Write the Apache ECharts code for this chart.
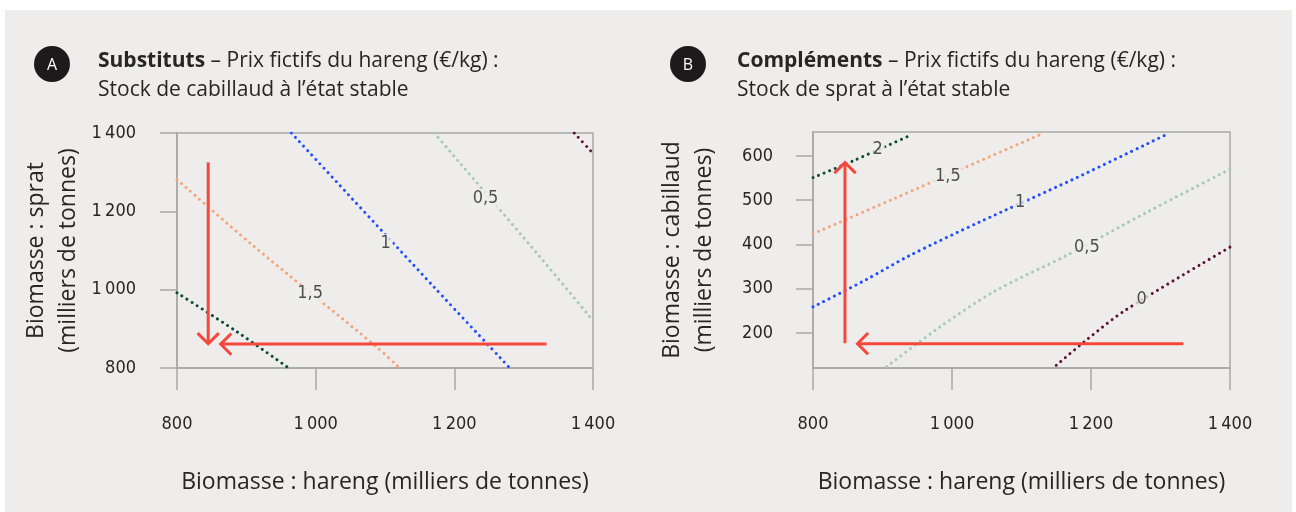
<!DOCTYPE html>
<html>
<head>
    <meta charset="UTF-8">
    <title>Prix fictifs du hareng</title>
    <script src="https://cdn.jsdelivr.net/npm/echarts@6/dist/echarts.min.js"></script>
    <style>
        html, body { margin: 0; padding: 0; background: #ffffff; }
        #chart { position: absolute; left: 5px; top: 10px; width: 1287px; height: 502px; }
    </style>
</head>
<body>
<div id="chart"></div>
<script>
    // axes
    var xTicks = [800, 1000, 1200, 1400];
    var yTicksA = [800, 1000, 1200, 1400];
    var yTicksB = [200, 300, 400, 500, 600];

    // A : substituts (hareng x, sprat y)
    var a_20 = [[800, 992], [886, 893], [961, 800]];
    var a_15 = [[800, 1281], [908, 1115], [1087, 855], [1121, 800]];
    var a_10 = [[965, 1400], [1170, 1008], [1280, 800]];
    var a_05 = [[1171, 1400], [1321, 1089], [1400, 921]];
    var a_00 = [[1373, 1400], [1400, 1348]];
    var a_labels = [[992, 990, '1,5'], [1101, 1119, '1'], [1245, 1232, '0,5']];
    var a_arrows = [[845, 1325, 845, 862], [1333, 861, 863, 861]];

    // B : compléments (hareng x, cabillaud y)
    var b_20 = [[800, 551], [858, 589], [942, 648]];
    var b_15 = [[800, 424], [913, 501], [1016, 572], [1131, 651]];
    var b_10 = [[800, 259], [877, 321], [939, 375], [1040, 451], [1174, 547], [1312, 651]];
    var b_05 = [[906, 124], [982, 213], [1061, 294], [1167, 377], [1282, 474], [1400, 570]];
    var b_00 = [[1150, 127], [1194, 185], [1249, 251], [1400, 394]];
    var b_labels = [[893, 615, '2'], [994, 555, '1,5'], [1098, 495, '1'], [1194, 394, '0,5'], [1273, 275, '0']];
    var b_arrows = [[846, 177, 846, 585], [1333, 176, 864, 176]];

    var c20 = '#0b4a33', c15 = '#f6a57b', c10 = '#1f4dff', c05 = '#a6c8bb', c00 = '#5c0f38';
    var red = '#f5473b', axisGrey = '#a8a8a8', ink = '#262626', bg = '#eeedeb';
    var tickFont = '"DejaVu Sans Condensed", "Liberation Sans Narrow", sans-serif';
    var textFont = '"Open Sans", "Noto Sans", sans-serif';

    function fmt(v) {
        var s = String(v);
        return s.length > 3 ? s.slice(0, s.length - 3) + '\u2009' + s.slice(-3) : s;
    }

    function contour(data, color, idx) {
        return {
            type: 'line', xAxisIndex: idx, yAxisIndex: idx, data: data,
            showSymbol: false, smooth: 0.3, silent: true,
            lineStyle: {color: color, width: 3, type: [0.01, 6], cap: 'round'},
            z: 2
        };
    }

    function labels(data, idx) {
        return {
            type: 'scatter', xAxisIndex: idx, yAxisIndex: idx, symbolSize: 0, silent: true,
            data: data.map(function (d) { return {value: [d[0], d[1]], name: d[2]}; }),
            label: {
                show: true, position: 'inside', formatter: '{b}',
                color: ink, fontFamily: tickFont, fontSize: 18,
                backgroundColor: bg, padding: [0, 2]
            },
            z: 3
        };
    }

    function arrowItem(params, api) {
        var p0 = api.coord([api.value(0), api.value(1)]);
        var p1 = api.coord([api.value(2), api.value(3)]);
        var ang = Math.atan2(p1[1] - p0[1], p1[0] - p0[0]);
        var L = 15, w = Math.PI / 4;
        var h1 = [p1[0] - L * Math.cos(ang - w), p1[1] - L * Math.sin(ang - w)];
        var h2 = [p1[0] - L * Math.cos(ang + w), p1[1] - L * Math.sin(ang + w)];
        return {
            type: 'group', children: [
                {type: 'line', shape: {x1: p0[0], y1: p0[1], x2: p1[0], y2: p1[1]}, style: {stroke: red, lineWidth: 3}},
                {type: 'polyline', shape: {points: [h1, p1, h2]}, style: {stroke: red, lineWidth: 3, fill: null}}
            ]
        };
    }

    function arrows(data, idx) {
        return {
            type: 'custom', xAxisIndex: idx, yAxisIndex: idx, silent: true,
            dimensions: ['x0', 'y0', 'x1', 'y1'],
            encode: {x: [0, 2], y: [1, 3]},
            data: data, renderItem: arrowItem, z: 5
        };
    }

    function xAxis(idx) {
        return {
            type: 'value', gridIndex: idx, min: 800, max: 1400, interval: 200,
            name: 'Biomasse : hareng (milliers de tonnes)', nameLocation: 'middle', nameGap: 103,
            nameTextStyle: {fontFamily: textFont, fontSize: 23, color: ink},
            axisLine: {show: true, lineStyle: {color: axisGrey, width: 1.5}},
            axisTick: {show: true, length: 22, lineStyle: {color: axisGrey, width: 1.5}},
            axisLabel: {margin: 47, fontFamily: tickFont, fontSize: 18, color: ink, formatter: fmt,
                customValues: xTicks},
            splitLine: {show: false}
        };
    }

    function yName() {
        return {fontFamily: textFont, fontSize: 23, color: ink, lineHeight: 32};
    }

    var chart = echarts.init(document.getElementById('chart'));
    chart.setOption({
        backgroundColor: bg,
        animation: false,
        grid: [
            {left: 172, top: 123, width: 416, height: 235, show: true, borderColor: axisGrey, borderWidth: 1.5, backgroundColor: 'transparent'},
            {left: 808, top: 122, width: 417, height: 236, show: true, borderColor: axisGrey, borderWidth: 1.5, backgroundColor: 'transparent'}
        ],
        xAxis: [xAxis(0), xAxis(1)],
        yAxis: [
            {
                type: 'value', gridIndex: 0, min: 800, max: 1400, interval: 200,
                name: 'Biomasse : sprat\n(milliers de tonnes)', nameLocation: 'middle', nameGap: 93,
                nameTextStyle: yName(),
                axisLine: {show: true, lineStyle: {color: axisGrey, width: 1.5}},
                axisTick: {show: true, length: 17, lineStyle: {color: axisGrey, width: 1.5}},
                axisLabel: {margin: 41, fontFamily: tickFont, fontSize: 18, color: ink, formatter: fmt},
                splitLine: {show: false}
            },
            {
                type: 'value', gridIndex: 1, min: 121, max: 654,
                name: 'Biomasse : cabillaud\n(milliers de tonnes)', nameLocation: 'middle', nameGap: 93,
                nameTextStyle: yName(),
                axisLine: {show: true, lineStyle: {color: axisGrey, width: 1.5}},
                axisTick: {show: true, length: 17, lineStyle: {color: axisGrey, width: 1.5}, customValues: yTicksB},
                axisLabel: {margin: 40, fontFamily: tickFont, fontSize: 18, color: ink, customValues: yTicksB},
                splitLine: {show: false}
            }
        ],
        series: [
            contour(a_20, c20, 0), contour(a_15, c15, 0), contour(a_10, c10, 0),
            contour(a_05, c05, 0), contour(a_00, c00, 0),
            labels(a_labels, 0), arrows(a_arrows, 0),
            contour(b_20, c20, 1), contour(b_15, c15, 1), contour(b_10, c10, 1),
            contour(b_05, c05, 1), contour(b_00, c00, 1),
            labels(b_labels, 1), arrows(b_arrows, 1)
        ],
        graphic: [
            {type: 'circle', shape: {cx: 47, cy: 54, r: 18}, style: {fill: '#1c1a1b'}},
            {type: 'text', x: 47, y: 55, style: {text: 'A', fill: '#fff', font: '16px "Open Sans", sans-serif', align: 'center', verticalAlign: 'middle'}},
            {type: 'circle', shape: {cx: 683, cy: 54, r: 18}, style: {fill: '#1c1a1b'}},
            {type: 'text', x: 683, y: 55, style: {text: 'B', fill: '#fff', font: '16px "Open Sans", sans-serif', align: 'center', verticalAlign: 'middle'}},
            {
                type: 'text', x: 93, y: 37, style: {
                    text: '{b|Substituts} – Prix fictifs du hareng (€/kg) :\nStock de cabillaud à l’état stable',
                    fill: ink, font: '21px ' + textFont, lineHeight: 29,
                    rich: {b: {fontWeight: 'bold', fontSize: 21, fontFamily: textFont, fill: ink}}
                }
            },
            {
                type: 'text', x: 732, y: 37, style: {
                    text: '{b|Compléments} – Prix fictifs du hareng (€/kg) :\nStock de sprat à l’état stable',
                    fill: ink, font: '21px ' + textFont, lineHeight: 29,
                    rich: {b: {fontWeight: 'bold', fontSize: 21, fontFamily: textFont, fill: ink}}
                }
            }
        ]
    });
</script>
</body>
</html>
